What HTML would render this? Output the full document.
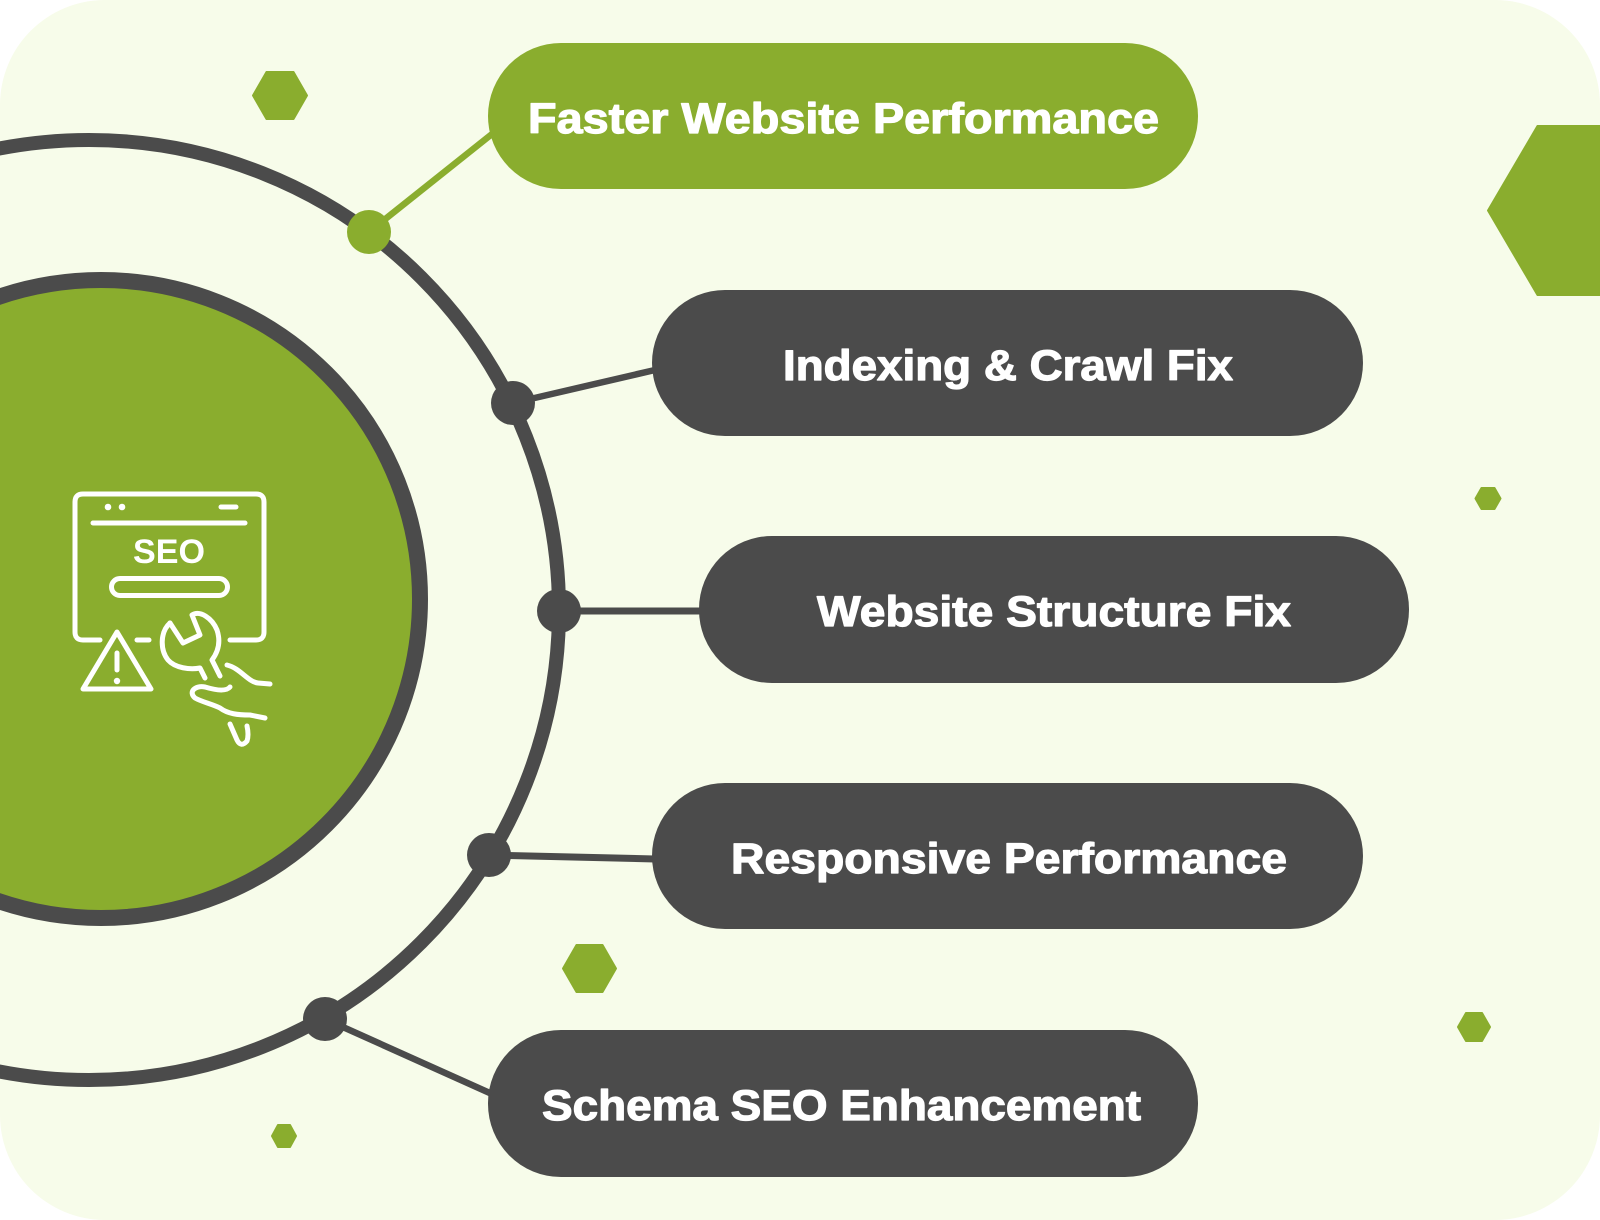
<!DOCTYPE html>
<html>
<head>
<meta charset="utf-8">
<style>
  html, body { margin: 0; padding: 0; background: #ffffff; }
  svg { display: block; }
  .lbl { font-family: "Liberation Sans", Arial, sans-serif; font-weight: 700; font-size: 43px; fill: #ffffff; stroke: #ffffff; stroke-width: 1.2px; stroke-linejoin: round; }
</style>
</head>
<body>
<svg width="1600" height="1220" viewBox="0 0 1600 1220" xmlns="http://www.w3.org/2000/svg">
  <defs>
    <clipPath id="card">
      <rect x="0" y="0" width="1600" height="1220" rx="105" ry="105"/>
    </clipPath>
  </defs>
  <rect x="0" y="0" width="1600" height="1220" rx="105" ry="105" fill="#F7FCEA"/>
  <g clip-path="url(#card)">
    <!-- hexagons -->
    <g fill="#8AAD2E" stroke="#8AAD2E" stroke-width="2" stroke-linejoin="round">
      <polygon points="253,95.5 266.5,72 293.5,72 307,95.5 293.5,119 266.5,119"/>
      <polygon points="563,968.5 576.5,945 602.5,945 616,968.5 602.5,992 576.5,992"/>
      <polygon points="1475.5,498.5 1481.5,488 1494.5,488 1500.5,498.5 1494.5,509 1481.5,509"/>
      <polygon points="1458,1027 1466,1013 1482,1013 1490,1027 1482,1041 1466,1041"/>
      <polygon points="272,1136 278,1125 290,1125 296,1136 290,1147 278,1147"/>
      <polygon points="1488,210.5 1537.5,126 1640,126 1690,210.5 1640,295 1537.5,295"/>
    </g>

    <!-- outer ring -->
    <circle cx="89" cy="610" r="470" fill="none" stroke="#4B4B4B" stroke-width="14"/>

    <!-- inner green circle -->
    <circle cx="101" cy="599" r="319" fill="#8AAD2E" stroke="#4B4B4B" stroke-width="16"/>

    <!-- connectors -->
    <line x1="369" y1="232" x2="492" y2="134" stroke="#8AAD2E" stroke-width="6.5"/>
    <line x1="513" y1="403" x2="655" y2="370" stroke="#4B4B4B" stroke-width="6.5"/>
    <line x1="559" y1="611" x2="701" y2="611" stroke="#4B4B4B" stroke-width="7"/>
    <line x1="489" y1="855" x2="655" y2="859" stroke="#4B4B4B" stroke-width="7"/>
    <line x1="325" y1="1019" x2="492" y2="1094" stroke="#4B4B4B" stroke-width="6.5"/>

    <!-- dots -->
    <circle cx="369" cy="232" r="22" fill="#8AAD2E"/>
    <circle cx="513" cy="403" r="22" fill="#4B4B4B"/>
    <circle cx="559" cy="611" r="22" fill="#4B4B4B"/>
    <circle cx="489" cy="855" r="22" fill="#4B4B4B"/>
    <circle cx="325" cy="1019" r="22" fill="#4B4B4B"/>

    <!-- pills -->
    <rect x="488" y="43" width="710" height="146" rx="73" ry="73" fill="#8AAD2E"/>
    <rect x="652" y="290" width="711" height="146" rx="73" ry="73" fill="#4B4B4B"/>
    <rect x="699" y="536" width="710" height="147" rx="73" ry="73" fill="#4B4B4B"/>
    <rect x="652" y="783" width="711" height="146" rx="73" ry="73" fill="#4B4B4B"/>
    <rect x="488" y="1030" width="710" height="147" rx="73" ry="73" fill="#4B4B4B"/>

    <!-- labels -->
    <text class="lbl" x="528" y="133" textLength="631" lengthAdjust="spacingAndGlyphs">Faster Website Performance</text>
    <text class="lbl" x="783" y="380" textLength="450" lengthAdjust="spacingAndGlyphs">Indexing &amp; Crawl Fix</text>
    <text class="lbl" x="817" y="626" textLength="474" lengthAdjust="spacingAndGlyphs">Website Structure Fix</text>
    <text class="lbl" x="731" y="873" textLength="556" lengthAdjust="spacingAndGlyphs">Responsive Performance</text>
    <text class="lbl" x="542" y="1120" textLength="599" lengthAdjust="spacingAndGlyphs">Schema SEO Enhancement</text>

    <!-- SEO icon -->
    <g fill="none" stroke="#ffffff" stroke-width="5" stroke-linecap="round" stroke-linejoin="round">
      <path d="M100,640 L83,640 Q75,640 75,632 L75,502 Q75,494 83,494 L256,494 Q264,494 264,502 L264,632 Q264,640 256,640 L230,640"/>
      <path d="M137,640 L149,640"/>
      <path d="M221,507 L236,507"/>
      <path d="M93,523 L245,523"/>
      <rect x="111.5" y="578.5" width="116" height="17" rx="8.5" ry="8.5"/>
      <polygon points="117,632 151,689 83,689"/>
      <path d="M117,653 L117,670"/>
      <!-- wrench -->
      <path d="M170,623 L183,643 L200,635 L192,615 C200,610 212,618 217,630 C221,642 218,652 212,660 L220,676"/>
      <path d="M170,623 C160,632 160,650 168,660 C175,668 190,670 200,668 L205,678"/>
      <!-- hand -->
      <path d="M227,665 C240,668 248,682 258,683 L270,684"/>
      <path d="M230,687 C226,692 215,690 205,687 C195,685 188,692 195,698 C202,702 212,704 220,708 C228,714 238,715 250,715 L265,718"/>
      <path d="M230,724 L237,740 Q241,748 247,741 Q249,735 247,726"/>
    </g>
    <circle cx="108" cy="507" r="3.3" fill="#ffffff"/>
    <circle cx="122" cy="507" r="3.3" fill="#ffffff"/>
    <circle cx="117" cy="681" r="3.2" fill="#ffffff"/>
    <text x="169" y="563" text-anchor="middle" font-family="Liberation Sans, Arial, sans-serif" font-weight="700" font-size="34" fill="#ffffff" textLength="72" lengthAdjust="spacingAndGlyphs">SEO</text>
  </g>
</svg>
</body>
</html>
